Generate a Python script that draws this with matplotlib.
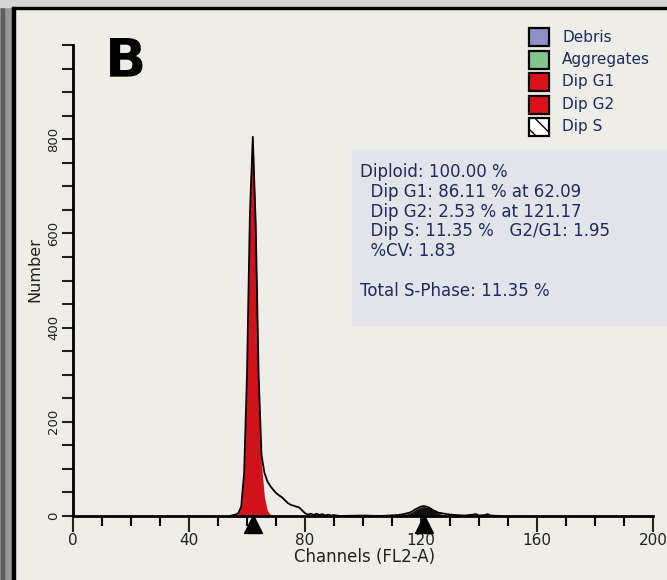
import matplotlib.pyplot as plt
from matplotlib.patches import Rectangle

# DNA histogram (channel -> number of events)
channels = [54, 56, 57, 58, 59, 60, 61, 62, 63, 64, 65, 66, 67, 68, 69, 70,
            71, 72, 73, 74, 75, 76, 77, 78, 79, 80, 81, 82, 83, 84, 85, 86,
            87, 88, 89, 90, 92, 100, 106, 112, 114, 116, 117, 118, 119, 120,
            121, 122, 123, 124, 125, 126, 127, 128, 129, 130, 132, 135, 138,
            139, 140, 142, 143, 144, 147]
counts = [0, 3, 6, 20, 90, 300, 640, 805, 620, 300, 130, 92, 74, 64, 56, 49,
          44, 40, 34, 28, 24, 22, 20, 18, 12, 6, 3, 5, 2, 5, 2, 4,
          1, 3, 1, 2, 0, 1, 0, 2, 4, 7, 10, 14, 17, 20,
          21, 20, 17, 13, 10, 7, 6, 5, 4, 3, 2, 1, 3,
          4, 1, 2, 4, 1, 0]

# fitted G1 component (red area)
g1_channels = [54, 56, 57, 58, 59, 60, 61, 62, 63, 64, 65, 66, 67, 68, 69]
g1_counts = [0, 3, 6, 20, 90, 300, 640, 805, 620, 290, 110, 40, 12, 3, 0]

# fitted G2 component
g2_channels = [113, 114, 116, 117, 118, 119, 120, 121, 122, 123, 124, 125, 126, 127, 128, 130]
g2_counts = [0, 3, 6, 9, 13, 16, 19, 20, 19, 16, 12, 9, 6, 4, 2, 0]

peak_marks = [62.09, 121.17]

legend_labels = ["Debris", "Aggregates", "Dip G1", "Dip G2", "Dip S"]
legend_colors = ["#8e90c6", "#84c48e", "#dc1219", "#dc1219", "white"]

stats_lines = [
    "Diploid: 100.00 %",
    "  Dip G1: 86.11 % at 62.09",
    "  Dip G2: 2.53 % at 121.17",
    "  Dip S: 11.35 %   G2/G1: 1.95",
    "  %CV: 1.83",
    "",
    "Total S-Phase: 11.35 %",
]

W, H = 667, 580
navy = "#1f2b5e"


def fx(px):
    return px / W


def fy(py):
    return 1 - py / H


fig = plt.figure(figsize=(W / 100, H / 100), dpi=100)
fig.patch.set_facecolor("#eeede7")

# scanned frame around the panel
fig.add_artist(Rectangle((0, 0), fx(13), 1, transform=fig.transFigure, color="#949494", zorder=0))
fig.add_artist(Rectangle((fx(1), 0), fx(3), 1, transform=fig.transFigure, color="#5c5c5c", zorder=0))
fig.add_artist(Rectangle((0, fy(7)), 1, 7 / H, transform=fig.transFigure, color="#d4d4d4", zorder=0))
fig.add_artist(Rectangle((fx(12), 0), fx(3), fy(7), transform=fig.transFigure, color="black", zorder=1))
fig.add_artist(Rectangle((fx(12), fy(9)), 1, 2 / H, transform=fig.transFigure, color="black", zorder=1))

# stats box background
fig.add_artist(Rectangle((fx(352), fy(325)), 1, (325 - 150) / H, transform=fig.transFigure,
                         color="#e3e4ea", zorder=0))

ax = fig.add_axes([fx(73), fy(516), fx(653) - fx(73), (516 - 45) / H])
ax.set_facecolor("none")

ax.fill_between(g1_channels, g1_counts, color="#d0121a", lw=0, zorder=2)
ax.fill_between(g2_channels, g2_counts, color="#111111", lw=0, zorder=2)
ax.plot(channels, counts, color="black", lw=1.3, zorder=3)
ax.plot(peak_marks, [-17] * len(peak_marks), ls="none", marker="^", ms=13,
        color="black", clip_on=False, zorder=4)

ax.set_xlim(0, 200)
ax.set_ylim(0, 1000)
for s in ["top", "right"]:
    ax.spines[s].set_visible(False)
for s in ["left", "bottom"]:
    ax.spines[s].set_linewidth(2)

ax.set_xticks([0, 40, 80, 120, 160, 200])
ax.set_xticks([x for x in range(10, 200, 10) if x % 40], minor=True)
ax.set_yticks([0, 200, 400, 600, 800])
ax.set_yticks([y for y in range(50, 1001, 50) if y % 200 or y == 1000], minor=True)
ax.tick_params(axis="x", which="major", length=11.5, width=1.5, labelsize=11, pad=1, colors="#222222")
ax.tick_params(axis="x", which="minor", length=7, width=1.5)
ax.tick_params(axis="y", which="both", length=8, width=1.5, labelsize=9.5, pad=1, colors="#222222")
for lab in ax.get_yticklabels():
    lab.set_rotation(90)
    lab.set_va("center")

fig.text(fx(365), fy(557), "Channels (FL2-A)", ha="center", va="center", fontsize=12, color="#222222")
fig.text(fx(35), fy(270), "Number", ha="center", va="center", rotation=90, fontsize=11.5,
         color="#222222")

fig.text(fx(105), fy(61), "B", ha="left", va="center", fontsize=39, fontweight="bold", color="black")

# legend boxes
for i, (lab, col) in enumerate(zip(legend_labels, legend_colors)):
    yc = 37 + i * 22.5
    fig.add_artist(Rectangle((fx(529), fy(yc + 9)), 20 / W, 18 / H, transform=fig.transFigure,
                             facecolor=col, edgecolor="black", lw=1.6,
                             hatch="\\\\" if lab == "Dip S" else None))
    fig.text(fx(562), fy(yc), lab, ha="left", va="center", fontsize=11, color=navy)

for i, line in enumerate(stats_lines):
    fig.text(fx(360), fy(172 + i * 19.8), line, ha="left", va="center", fontsize=12, color=navy)

fig.savefig("out.png", dpi=100, facecolor=fig.get_facecolor())
